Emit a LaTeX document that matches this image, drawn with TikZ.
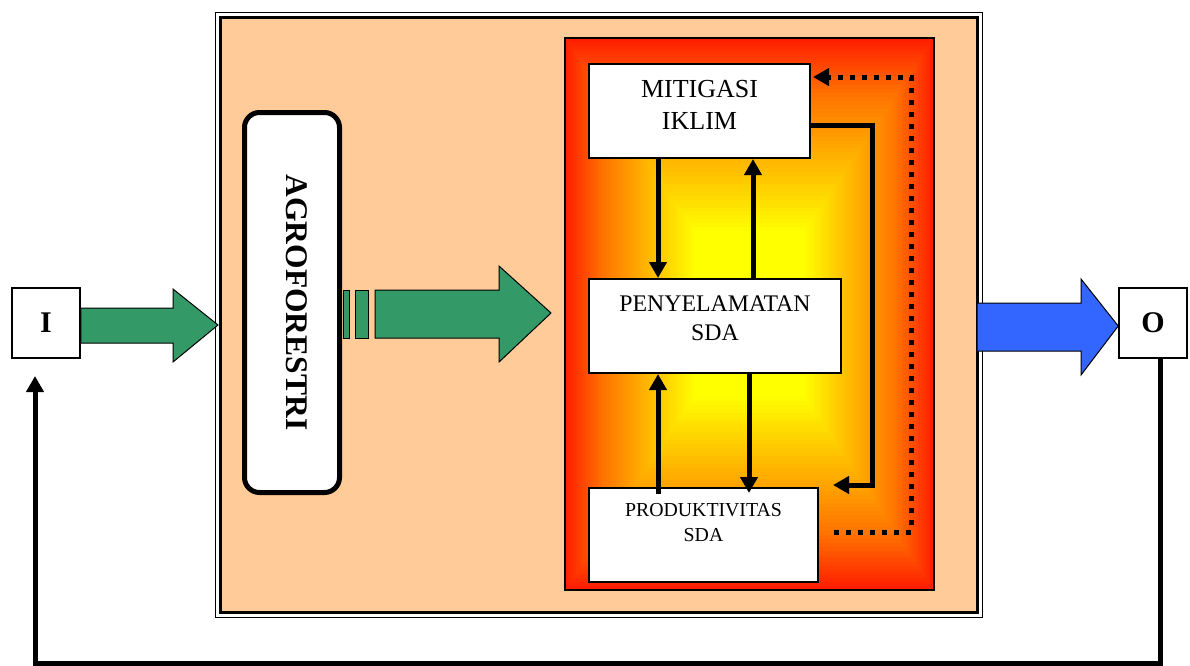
\documentclass[tikz,border=0pt]{standalone}
\usepackage{fontspec}
\setmainfont{Liberation Serif}
\usetikzlibrary{arrows.meta}
\definecolor{peach}{HTML}{FFCC99}
\definecolor{sgreen}{HTML}{339966}
\definecolor{bblue}{HTML}{3366FF}
\tikzset{
  box/.style={draw, line width=2pt, fill=white, inner sep=0pt},
  iobox/.style={draw, line width=1.5pt, fill=white, inner sep=0pt, font=\fontsize{30}{36}\selectfont\bfseries},
  tb/.style={inner sep=0pt, align=center},
  arr/.style={line width=5pt, -{Triangle[length=16pt,width=17pt]}},
  dotarr/.style={line width=5pt, dash pattern=on 5pt off 7pt, -{Triangle[length=16pt,width=17pt]}},
  blockg/.style={draw=black, line width=1pt, fill=sgreen},
  blockb/.style={draw=black, line width=1pt, fill=bblue}
}
\begin{document}
\begin{tikzpicture}[x=1pt,y=-1pt]
\useasboundingbox (0,0) rectangle (1190,665);
% outer frame (double line)
\draw[line width=1.8pt, fill=white] (215.5,12.5) rectangle (982.5,617.5);
\draw[line width=2.2pt, fill=peach] (220.5,17.5) rectangle (977.5,612.5);
% agroforestri
\node[draw, line width=5pt, rounded corners=15pt, fill=white, minimum width=95pt, minimum height=380pt] (agro) at (292,302.5) {};
\node[inner sep=0pt, rotate=-90, font=\fontsize{31.5}{36}\selectfont\bfseries] (agroT) at (296.5,302.5) {AGROFORESTRI};
% glowing panel: rectangular gradient from the centre (yellow) to the edges (red)
\foreach \i in {70,69,...,1}{
  \pgfmathsetmacro\tt{\i/70}
  \pgfmathsetmacro\gg{max(0.1,min(1,1-1.1*max(0,\tt-0.3)-0.55*max(0,\tt-0.8)))}
  \definecolor{gc}{rgb}{1,\gg,0}
  \fill[gc] ({749.5-184.5*\tt},{314-276*\tt}) rectangle ({749.5+184.5*\tt},{314+276*\tt});
}
\draw[line width=2pt] (565,38) rectangle (934,590);
% boxes
\node[box, minimum width=221pt, minimum height=94pt] (mit) at (699.5,111) {};
\node[box, minimum width=252pt, minimum height=94pt] (pen) at (715,326) {};
\node[box, minimum width=229pt, minimum height=94pt] (prod) at (703.5,535) {};
\node[tb, anchor=north, font=\fontsize{26}{32}\selectfont] (mitT) at (699.5,80) {MITIGASI\\IKLIM};
\node[tb, anchor=north, font=\fontsize{23.8}{29}\selectfont] (penT) at (715,296) {PENYELAMATAN\\SDA};
\node[tb, anchor=north, font=\fontsize{19.8}{25}\selectfont] (prodT) at (703.5,503) {PRODUKTIVITAS\\SDA};
% I and O
\node[iobox, minimum width=68pt, minimum height=70pt] (I) at (46,323) {I};
\node[iobox, minimum width=68pt, minimum height=70pt] (O) at (1153,323) {O};
% internal arrows
\coordinate (xa) at (658,0);
\coordinate (xb) at (753,0);
\coordinate (xc) at (749,0);
\draw[arr] (mit.south -| xa) -- (pen.north -| xa);
\draw[arr] (pen.north -| xb) -- (mit.south -| xb);
\draw[arr] (pen.south -| xc) -- ([yshift=-6pt]prod.north -| xc);
\draw[arr] ([yshift=-7pt]prod.north -| xa) -- (pen.south -| xa);
% mitigasi -> produktivitas loop
\coordinate (r1) at (872,125);
\coordinate (r2) at (872,485);
\draw[arr] (mit.east |- r1) -- (r1) -- (r2) -- ([xshift=14pt]prod.east |- r2);
% dotted loop produktivitas -> mitigasi
\coordinate (d1) at (911,532);
\coordinate (d2) at (911,77);
\draw[dotarr] ([xshift=15pt]prod.east |- d1) -- (d1) -- (d2) -- ([xshift=2pt]mit.east |- d2);
% green block arrows
\draw[blockg] (I.east |- 0,308) -- (173,308) -- (173,289) -- (218,325) -- (173,362) -- (173,343) -- (I.east |- 0,343) -- cycle;
\draw[blockg] (343,290) rectangle (349,338);
\draw[blockg] (355,290) rectangle (368,338);
\draw[blockg] (375,290) -- (499,290) -- (499,266) -- (551,313) -- (499,362) -- (499,338) -- (375,338) -- cycle;
% blue block arrow
\draw[blockb] (977,303) -- (1081,303) -- (1081,279) -- (O.west |- 0,326) -- (1081,375) -- (1081,351) -- (977,351) -- cycle;
% feedback O -> I
\coordinate (fr) at (1160,663);
\coordinate (fl) at (35,663);
\coordinate (itip) at (35,376);
\draw[arr] (O.south -| fr) -- (fr) -- (fl) -- (itip);
\end{tikzpicture}
\end{document}
